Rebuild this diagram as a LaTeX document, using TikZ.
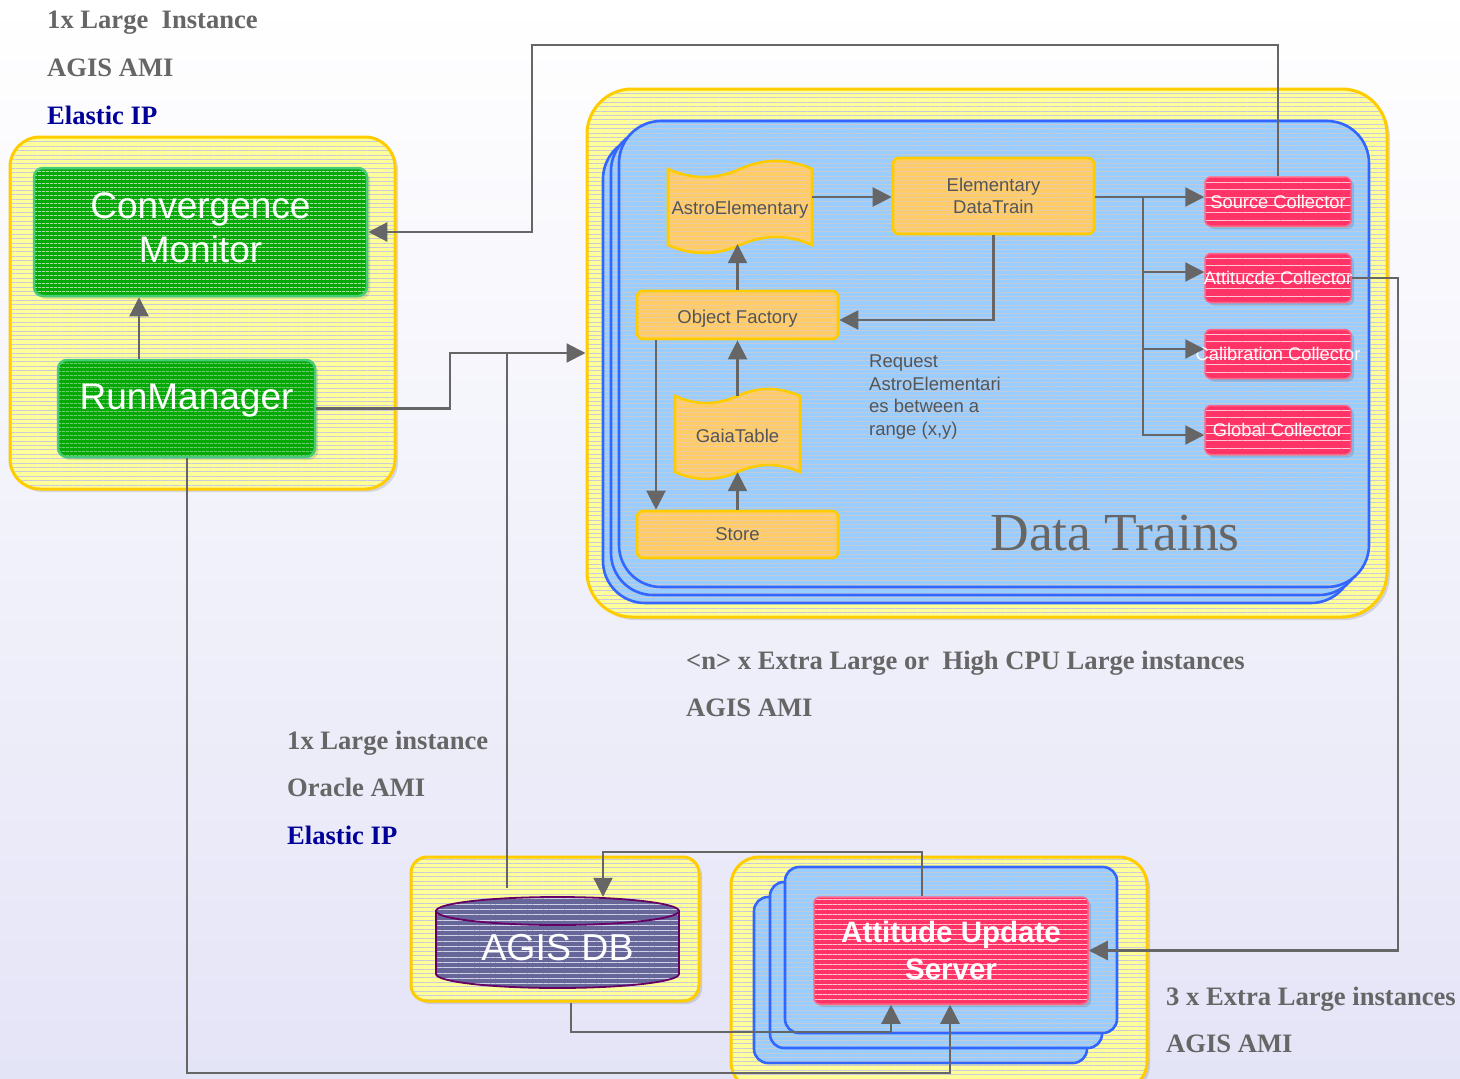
\documentclass[tikz,border=0pt]{standalone}
\usepackage{fontspec}
\setmainfont{Liberation Serif}
\newfontfamily\arialf{Liberation Sans}
\usetikzlibrary{patterns.meta,arrows.meta,shadows,calc}

\definecolor{yfill}{HTML}{FFFF99}
\definecolor{ystripe}{HTML}{CACADC}
\definecolor{ygold}{HTML}{FFCC00}
\definecolor{bfill}{HTML}{99CCFF}
\definecolor{bstripe}{HTML}{C6CAD4}
\definecolor{bedge}{HTML}{3366FF}
\definecolor{ofill}{HTML}{FFCC66}
\definecolor{ostripe}{HTML}{ECCAA8}
\definecolor{otext}{HTML}{555555}
\definecolor{gfill}{HTML}{06AA06}
\definecolor{gstripe}{HTML}{A4E2A4}
\definecolor{gedge}{HTML}{44CC77}
\definecolor{rfill}{HTML}{FF3366}
\definecolor{rstripe}{HTML}{FFC8D6}
\definecolor{redge}{HTML}{FF6688}
\definecolor{dbfill}{HTML}{666699}
\definecolor{dbstripe}{HTML}{D0D0E6}
\definecolor{dbedge}{HTML}{660066}
\definecolor{lgray}{HTML}{666666}
\definecolor{ipblue}{HTML}{000099}
\definecolor{bglow}{HTML}{E4E4F7}

\tikzset{
  conn/.style={draw=lgray, line width=2.2pt},
  arr/.style={conn, -{Triangle[length=19pt,width=19pt]}},
  striped/.style n args={3}{preaction={fill=#1},
    pattern={Lines[angle=0,distance=#3,line width=0.9pt]}, pattern color=#2},
  softshadow/.style={drop shadow={shadow xshift=3pt, shadow yshift=-3pt, fill=black, opacity=0.12}},
  yellowbox/.style={softshadow, striped={yfill}{ystripe}{4.4pt}, draw=ygold,
    line width=3pt, rounded corners=#1, inner sep=0pt},
  bluebox/.style={striped={bfill}{bstripe}{4.3pt}, draw=bedge, line width=2.6pt,
    rounded corners=#1, inner sep=0pt},
  greenbox/.style={softshadow, striped={gfill}{gstripe}{4pt}, draw=gedge, line width=2.5pt,
    rounded corners=9pt, text=white, font=\arialf\fontsize{37}{44}\selectfont,
    align=center, inner sep=0pt},
  greentext/.style={inner sep=0pt, text=white, font=\arialf\fontsize{37}{44}\selectfont,
    align=center},
  orangebox/.style={striped={ofill}{ostripe}{4.3pt}, draw=ygold, line width=2.6pt,
    rounded corners=6pt, text=otext, font=\arialf\fontsize{18.5}{22.5}\selectfont,
    align=center, inner sep=0pt},
  lowtext/.style={text height=17.5pt, text depth=0pt},
  tapeshape/.style={striped={ofill}{ostripe}{4.3pt}, draw=ygold, line width=2.6pt},
  redbox/.style={softshadow, striped={rfill}{rstripe}{#1}, draw=redge, line width=1.5pt,
    rounded corners=6pt, text=white, inner sep=0pt},
  collector/.style={redbox=7.6pt, minimum width=146pt, minimum height=49pt,
    font=\arialf\fontsize{18.3}{22}\selectfont},
  lbl/.style={anchor=base west, font=\bfseries\fontsize{26.6}{29}\selectfont,
    text=lgray, inner sep=0pt},
}

\begin{document}
\begin{tikzpicture}[x=1pt,y=-1pt]
  % page and background
  \useasboundingbox (0,0) rectangle (1460,1079);
  \clip (0,0) rectangle (1460,1079);
  \shade[top color=white, bottom color=bglow] (0,0) rectangle (1460,1079);

  % ---------- controller instance ----------
  \node[yellowbox=30pt, minimum width=385pt, minimum height=352pt] (lcont) at (202.5,313) {};
  \node[greenbox, minimum width=333pt, minimum height=128pt] (conv) at (200.5,232) {};
  \node[greentext] (convtext) at (200.5,228) {Convergence\\Monitor};
  \node[greenbox, minimum width=257pt, minimum height=97pt, text depth=24pt] (rm) at (186.5,408.5)
    {RunManager};

  % ---------- data train instances ----------
  \node[yellowbox=45pt, minimum width=800pt, minimum height=528pt] (dtcont) at (987,353) {};
  \node[bluebox=42pt, minimum width=750pt, minimum height=466pt] (dtb3) at (978,370) {};
  \node[bluebox=42pt, minimum width=750pt, minimum height=466pt] (dtb2) at (986,362) {};
  \node[bluebox=42pt, minimum width=750pt, minimum height=466pt] (dtb1) at (994,354) {};

  % tape-shaped tables
  \path[tapeshape] (668,169) .. controls (692,179.7) and (716,179.7) .. (740,169)
    .. controls (764,158.3) and (788,158.3) .. (812,169) -- (812,245)
    .. controls (788,234.3) and (764,234.3) .. (740,245)
    .. controls (716,255.7) and (692,255.7) .. (668,245) -- cycle;
  \node[inner sep=0pt, minimum width=144pt, minimum height=76pt, text=otext, lowtext,
    font=\arialf\fontsize{18.5}{22.5}\selectfont] (astro) at (740,206) {AstroElementary};

  \path[tapeshape] (675,396) .. controls (695.8,405.3) and (716.7,405.3) .. (737.5,396)
    .. controls (758.3,386.7) and (779.2,386.7) .. (800,396) -- (800,472)
    .. controls (779.2,462.7) and (758.3,462.7) .. (737.5,472)
    .. controls (716.7,481.3) and (695.8,481.3) .. (675,472) -- cycle;
  \node[inner sep=0pt, minimum width=125pt, minimum height=76pt, text=otext, lowtext,
    font=\arialf\fontsize{18.5}{22.5}\selectfont] (gaia) at (737.5,434) {GaiaTable};

  \node[orangebox, minimum width=201pt, minimum height=76pt] (edt) at (993.5,196)
    {Elementary\\DataTrain};
  \node[orangebox, lowtext, minimum width=201pt, minimum height=48pt] (of) at (737.5,315)
    {Object Factory};
  \node[orangebox, minimum width=201pt, minimum height=47pt] (store) at (737.5,534.5) {Store};

  \node[collector] (sc) at (1278,201.5) {\makebox[0pt]{Source Collector}};
  \node[collector] (ac) at (1278,278) {\makebox[0pt]{Attitucde Collector}};
  \node[collector] (cc) at (1278,354) {\makebox[0pt]{Calibration Collector}};
  \node[collector] (gc) at (1278,430) {\makebox[0pt]{Global Collector}};

  \node[anchor=north west, inner sep=0pt, align=left, text=otext,
    font=\arialf\fontsize{18.5}{22.5}\selectfont] (req) at (869,355)
    {Request\\AstroElementari\\es between a\\range (x,y)};
  \node[inner sep=0pt, text=lgray, font=\fontsize{53.5}{56}\selectfont] (dtname) at (1115,533)
    {Data Trains};

  % ---------- database instance ----------
  \node[yellowbox=16pt, minimum width=288pt, minimum height=144pt] (dbcont) at (555,929) {};
  \path[striped={dbfill}{dbstripe}{5.3pt}, draw=dbedge, line width=1.8pt]
    (436,911) -- (436,974) .. controls (436,981.7) and (490.4,988) .. (557.5,988)
    .. controls (624.6,988) and (679,981.7) .. (679,974) -- (679,911) -- cycle;
  \path[striped={dbfill}{dbstripe}{5.3pt}, draw=dbedge, line width=1.8pt]
    (557.5,911) ellipse [x radius=121.5, y radius=14];
  \node[inner sep=0pt, minimum width=243pt, minimum height=91pt, text=white,
    text height=35pt, text depth=0pt,
    font=\arialf\fontsize{37.5}{40}\selectfont] (db) at (557.5,942.5) {AGIS DB};

  % ---------- attitude update instances ----------
  \node[yellowbox=28pt, minimum width=416pt, minimum height=233pt] (auscont) at (939,973.5) {};
  \node[bluebox=14pt, minimum width=333pt, minimum height=166pt] (ausb3) at (920.5,980) {};
  \node[bluebox=14pt, minimum width=332pt, minimum height=166pt] (ausb2) at (936,965) {};
  \node[bluebox=14pt, minimum width=332pt, minimum height=166pt] (ausb1) at (951,950) {};
  \node[redbox=5pt, minimum width=274pt, minimum height=107pt, align=center,
    font=\arialf\bfseries\fontsize{29.5}{37}\selectfont] (aus) at (951,950.5)
    {Attitude Update\\Server};

  % ---------- instance labels ----------
  \node[lbl] (l1) at (47,28) {1x Large\ \ Instance};
  \node[lbl] (l2) at (47,76) {AGIS AMI};
  \node[lbl, text=ipblue] (l3) at (47,124) {Elastic IP};
  \node[lbl] (l4) at (686,669) {<n> x Extra Large or\ \ High CPU Large instances};
  \node[lbl] (l5) at (686,716) {AGIS AMI};
  \node[lbl] (l6) at (287,749) {1x Large instance};
  \node[lbl] (l7) at (287,796) {Oracle AMI};
  \node[lbl, text=ipblue] (l8) at (287,844) {Elastic IP};
  \node[lbl] (l9) at (1166,1005) {3 x Extra Large instances};
  \node[lbl] (l10) at (1166,1052) {AGIS AMI};

  % ---------- connectors ----------
  \coordinate (cmx) at (139,0);
  \draw[arr] (cmx |- rm.north) -- (cmx |- conv.south);

  \coordinate (topbend) at (532,45);
  \draw[arr] (sc.north) |- (topbend) |- (conv.east);

  \coordinate (rmbend) at (450,353);
  \draw[arr] (rm.east) -| (rmbend) -- (dtcont.west);
  \coordinate (dbtap) at (507,353);
  \coordinate (dbfeed) at (507,888);
  \draw[conn] (dbtap) -- (dbfeed);

  \draw[arr] (astro.east |- 0,197) -- (edt.west |- 0,197);
  \draw[arr] (edt.south) |- ([yshift=-5pt]of.east);
  \draw[arr] (of.north) -- (of.north |- astro.south);
  \draw[arr] (gaia.north) -- (gaia.north |- of.south);
  \draw[arr] (store.north) -- (store.north |- gaia.south);
  \coordinate (ofx) at (656,0);
  \draw[arr] (ofx |- of.south) -- (ofx |- store.north);

  \coordinate (fork) at (1143,197);
  \draw[arr] (edt.east |- fork) -- (sc.west |- fork);
  \draw[arr] (fork) |- ([yshift=6pt]ac.west);
  \draw[arr] (fork) |- ([yshift=5pt]cc.west);
  \draw[arr] (fork) |- ([yshift=-5pt]gc.west);

  \coordinate (rbend) at (1398,278);
  \draw[arr] (ac.east) -- (rbend) |- (aus.east);

  \coordinate (ausup) at (922,852);
  \coordinate (dbdown) at (603,852);
  \draw[arr] (ausup |- aus.north) -- (ausup) -- (dbdown) -- (dbdown |- db.north);

  \coordinate (dbl) at (571,1032);
  \coordinate (dbr) at (891,1032);
  \draw[arr] (dbl |- dbcont.south) -- (dbl) -- (dbr) -- (dbr |- aus.south);

  \coordinate (bl) at (187,1073);
  \coordinate (br) at (950,1073);
  \draw[arr] (bl |- rm.south) -- (bl) -- (br) -- (br |- aus.south);
\end{tikzpicture}
\end{document}
